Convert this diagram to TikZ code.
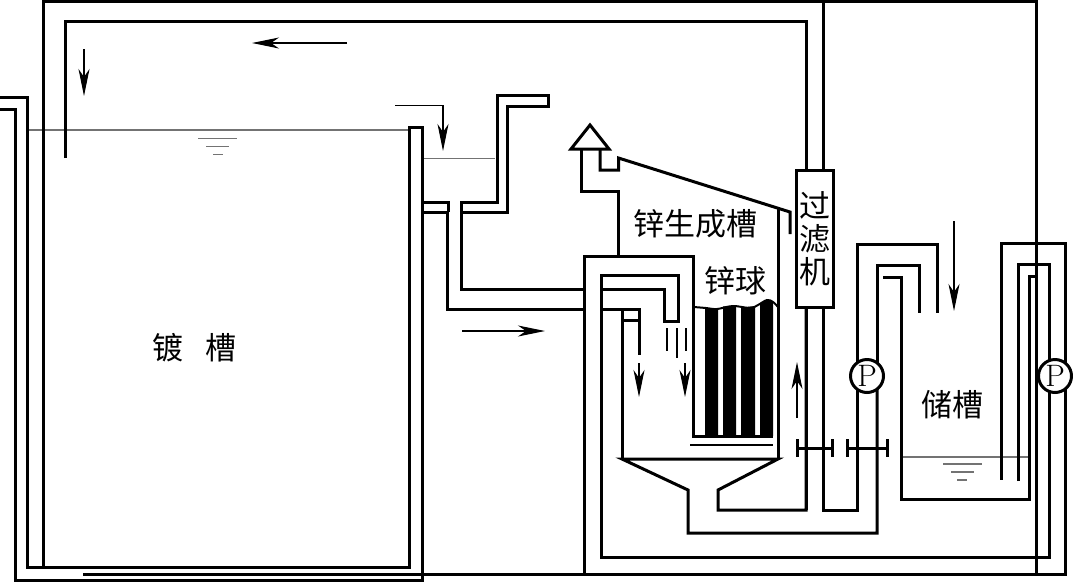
\documentclass[tikz,border=0pt]{standalone}
\usepackage{fontspec}
\newfontfamily\cjk{Noto Sans CJK SC}
\usetikzlibrary{arrows.meta}
\tikzset{
  pipe/.style={line width=3pt,line join=miter,line cap=butt},
  thinl/.style={line width=2pt},
  water/.style={line width=1.4pt,draw=black!55},
  flow/.style={line width=1.3pt,-{Stealth[length=27pt,width=11pt,inset=8pt]}},
  label/.style={inner sep=0pt,font=\cjk\fontsize{31}{33}\selectfont},
  pump/.style={circle,draw,fill=white,line width=3pt,minimum size=33pt,inner sep=0pt,font=\fontsize{31}{31}\selectfont},
  filterbox/.style={rectangle,draw,fill=white,line width=3pt,minimum width=37pt,minimum height=137pt,inner sep=0pt,align=center,font=\cjk\fontsize{31}{33}\selectfont}
}
\begin{document}
\begin{tikzpicture}[x=1pt,y=-1pt]
\useasboundingbox (0,0) rectangle (1073,582);
\fill[white] (0,0) rectangle (1073,582);
\coordinate (pumpLc) at (867,376);
\coordinate (pumpRc) at (1055,376);
% water levels
\draw[water] (28,130) -- (409,130);
\draw[water] (422,158.5) -- (495,158.5);
\draw[water] (901,457) -- (1029,457);
\foreach \y/\a/\b in {138.5/198/237,146.5/206/229,154.5/213/223} \draw[water] (\a,\y) -- (\b,\y);
\foreach \y/\a/\b in {464/943/982,472/951/974,480/957/967} \draw[water] (\a,\y) -- (\b,\y);
% tank walls and outer circuit
\draw[pipe] (0,97) -- (27,97) -- (27,567) -- (409,567) -- (409,127) -- (422,127) -- (422,580.5) -- (15,580.5) -- (15,109) -- (0,109);
\draw[pipe] (43,567) -- (43,1.5) -- (1036,1.5) -- (1036,574);
\draw[pipe] (83,574) -- (1065,574) -- (1065,243) -- (1001,243) -- (1001,480);
% weir
\draw[pipe] (422,212) -- (447,212) -- (447,309) -- (584,309);
\draw[pipe] (422,202) -- (448,202) -- (448,212);
\draw[pipe] (584,289) -- (461,289) -- (461,202) -- (497,202) -- (497,95) -- (548,95) -- (548,106) -- (507,106) -- (507,212) -- (461,212);
% generator housing
\draw[pipe] (584,574) -- (584,256) -- (693,256) -- (693,436) -- (773,436);
\draw[pipe] (1049,376) -- (1049,557) -- (601,557) -- (601,275) -- (678,275) -- (678,321) -- (664,321) -- (664,289) -- (601,289);
\draw[pipe] (601,309) -- (639,309) -- (639,355);
\draw[pipe] (622,459) -- (622,309);
\draw[pipe] (622,320) -- (639,320);
\draw[thinl] (667,328) -- (667,351) (677,328) -- (677,358) (686,328) -- (686,351);
% hopper
\draw[pipe] (877,376) -- (877,533) -- (688,533) -- (688,490) -- (622,459) -- (778,459) -- (718,490) -- (718,510) -- (806,510) -- (806,300);
\draw[pipe] (778,459) -- (778,208);
% roof and vent
\draw[pipe] (618.5,256) -- (618.5,191) -- (581,191) -- (581,149);
\draw[pipe] (600,149) -- (600,170) -- (618.5,170) -- (618.5,158) -- (790,212) -- (790,234);
\draw[pipe,fill=white] (590,125) -- (571,149) -- (609,149) -- cycle;
% zinc balls
\fill (705,308) -- (718,309) -- (718,436) -- (705,436) -- cycle;
\fill (723,306.5) -- (736,306) -- (736,436) -- (723,436) -- cycle;
\fill (741,307.5) -- (755,306) -- (755,436) -- (741,436) -- cycle;
\fill (760,303) -- (767,300) -- (773,302) -- (773,436) -- (760,436) -- cycle;
\draw[line width=2pt] plot[smooth,tension=0.6] coordinates {(694,307) (706,308) (717,309) (733,306) (750,308) (758,305) (767,300) (773,302) (778,307)};
\draw[line width=1.2pt] (690,445) -- (773,445);
% pipes to filter and pumps
\node[filterbox] (filt) at (815,238.5) {过\\滤\\机};
\draw[pipe] (65,158) -- (65,21) -- (806,21) -- ([xshift=-9pt]filt.north);
\draw[pipe] (823,1.5) -- ([xshift=8pt]filt.north);
\draw[pipe] ([xshift=-9pt]filt.south) -- (806,510);
\draw[pipe] ([xshift=8pt]filt.south) -- (823,510) -- (857,510) -- (857,244) -- (937,244) -- (937,313);
\draw[pipe] (877,376) -- (877,265) -- (919,265) -- (919,313);
\draw[pipe] (883,277) -- (901,277) -- (901,499) -- (1029,499) -- (1029,276) -- (1036,276);
\draw[pipe] (1018,481) -- (1018,264) -- (1049,264) -- (1049,376);
% pumps
\node[pump] (pumpL) at (pumpLc) {P};
\node[pump] (pumpR) at (pumpRc) {P};
% valves
\draw[pipe] (797,448) -- (832,448) (797,439) -- (797,457) (832,439) -- (832,457);
\draw[pipe] (847,448) -- (887,448) (847,439) -- (847,457) (887,439) -- (887,457);
% flow arrows
\draw[flow] (347,43) -- (252,43);
\draw[flow] (84,49) -- (84,96);
\draw[flow] (395,105.5) -- (443,105.5) -- (443,151);
\draw[flow] (462,331) -- (545,331);
\draw[flow] (639,363) -- (639,397);
\draw[flow] (685,363) -- (685,397);
\draw[flow] (797,418) -- (797,362);
\draw[flow] (954,221) -- (954,311);
% labels
\node[label] (t1) at (167.5,348) {镀};
\node[label] (t1b) at (220.5,348) {槽};
\node[label] (t2) at (695,224) {锌生成槽};
\node[label] (t3) at (735,281) {锌球};
\node[label] (t4) at (952,405) {储槽};
\end{tikzpicture}
\end{document}
